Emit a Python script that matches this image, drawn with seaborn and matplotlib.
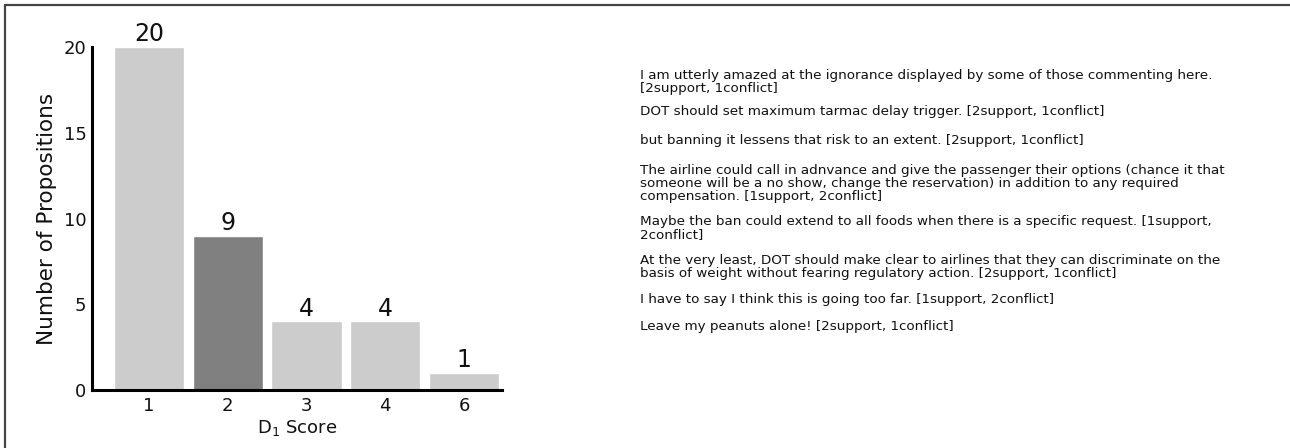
import matplotlib
matplotlib.use("Agg")
import pandas as pd
import seaborn as sns
import matplotlib.pyplot as plt
from matplotlib.lines import Line2D

# 数据
scores = ["1", "2", "3", "4", "6"]
counts = [20, 9, 4, 4, 1]
bar_colors = ["#cccccc", "#808080", "#cccccc", "#cccccc", "#cccccc"]

propositions = [
    "I am utterly amazed at the ignorance displayed by some of those commenting here.\n[2support, 1conflict]",
    "DOT should set maximum tarmac delay trigger. [2support, 1conflict]",
    "but banning it lessens that risk to an extent. [2support, 1conflict]",
    "The airline could call in adnvance and give the passenger their options (chance it that\n"
    "someone will be a no show, change the reservation) in addition to any required\n"
    "compensation. [1support, 2conflict]",
    "Maybe the ban could extend to all foods when there is a specific request. [1support,\n2conflict]",
    "At the very least, DOT should make clear to airlines that they can discriminate on the\n"
    "basis of weight without fearing regulatory action. [2support, 1conflict]",
    "I have to say I think this is going too far. [1support, 2conflict]",
    "Leave my peanuts alone! [2support, 1conflict]",
]
# 每段第一行的中心位置（像素）
para_y = [75, 111, 140, 170, 221, 260, 299, 326]

df = pd.DataFrame({"score": scores, "count": counts})

sns.set_theme(style="white")
plt.rcParams["font.family"] = ["DejaVu Sans"]

W, H = 1290, 448
fig = plt.figure(figsize=(W / 100, H / 100), dpi=100)
ax = fig.add_axes([92 / W, 1 - 390 / H, 410 / W, 343 / H])

sns.barplot(data=df, x="score", y="count", hue="score", palette=bar_colors,
            order=scores, legend=False, width=0.89, saturation=1, ax=ax)

# 柱子上标注数值
for i, v in enumerate(counts):
    ax.text(i, v + 0.05, str(v), ha="center", va="bottom", fontsize=17, color="#111111")

ax.set_ylim(0, 20)
ax.set_xlim(-0.72, 4.48)
ax.set_yticks([0, 5, 10, 15, 20])
ax.tick_params(axis="both", length=0, labelsize=13, colors="#111111", pad=4)
ax.tick_params(axis="x", pad=5)
ax.set_xlabel("D$_1$ Score", fontsize=13, color="#111111", labelpad=2)
ax.set_ylabel("Number of Propositions", fontsize=15.5, color="#111111", labelpad=5)
sns.despine(ax=ax)
for s in ["left", "bottom"]:
    ax.spines[s].set_color("black")
    ax.spines[s].set_linewidth(2.2)

# 右侧文字
for txt, y in zip(propositions, para_y):
    fig.text(640 / W, 1 - (y - 6) / H, txt, ha="left", va="top", fontsize=9.7,
             color="#111111", linespacing=1.0)

# 外框（只有上边和左边）
fig.add_artist(Line2D([5 / W, 1], [1 - 5 / H, 1 - 5 / H], color="#444444", lw=1.6))
fig.add_artist(Line2D([5 / W, 5 / W], [0, 1 - 5 / H], color="#444444", lw=1.6))

plt.savefig("out.png", dpi=100)
